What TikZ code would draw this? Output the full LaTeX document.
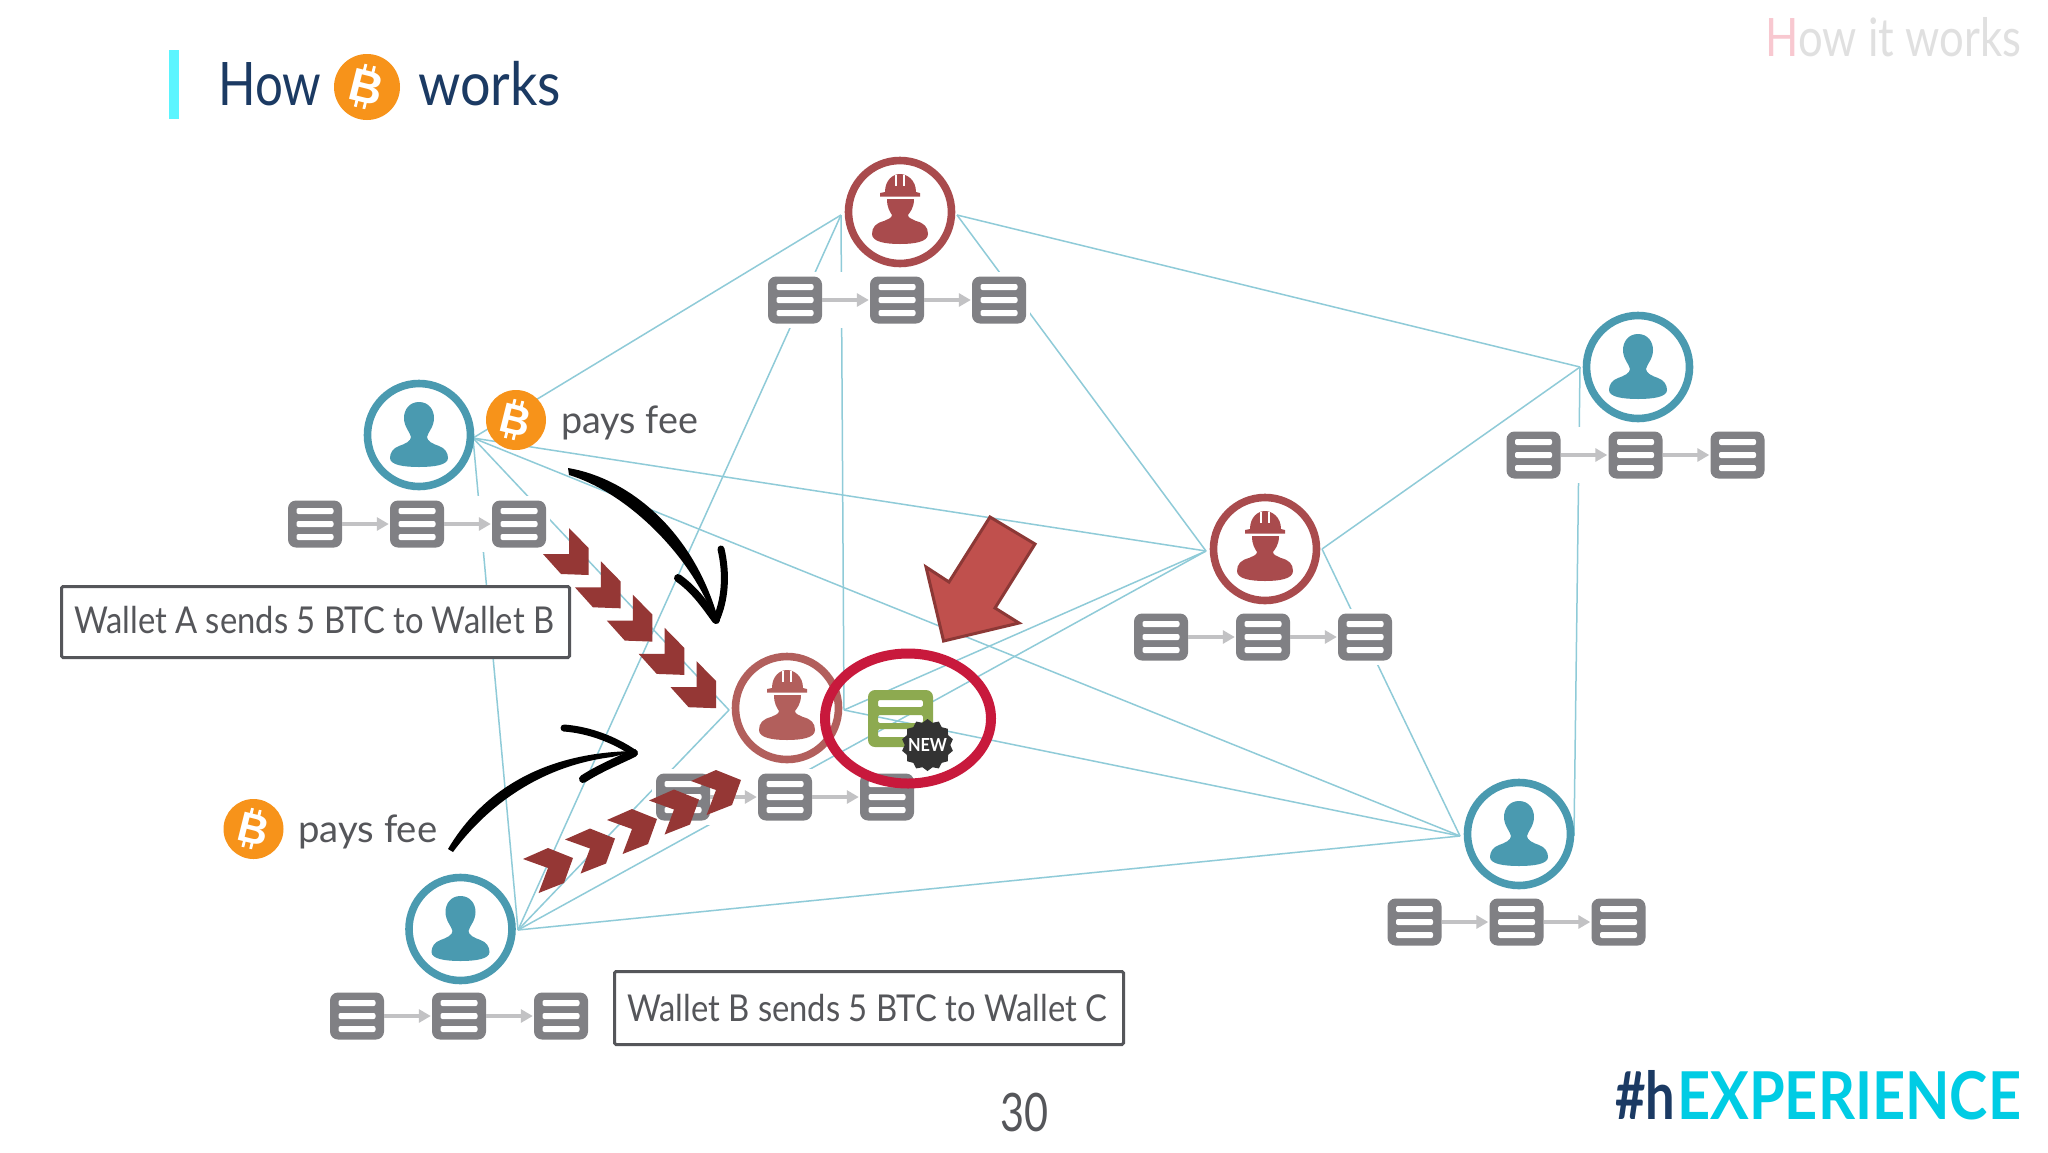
\documentclass[tikz,border=0pt]{standalone}
\usepackage{fontspec}
\usepackage{graphicx}
\usetikzlibrary{shapes.geometric,arrows.meta}
\setmainfont{Lato}
\newfontfamily\logofont{Lato}
\newfontfamily\coinfont{Liberation Sans}
\newcommand\wtext[2]{\resizebox{#1pt}{\height}{#2}}
\newcommand\fsz[1]{\fontsize{#1}{#1}\selectfont}
\definecolor{minerred}{HTML}{A94B4D}
\definecolor{minerfade}{HTML}{B25F5C}
\definecolor{userblue}{HTML}{4A9AB0}
\definecolor{linkblue}{HTML}{8FCBD8}
\definecolor{boxgrey}{HTML}{808084}
\definecolor{arrgrey}{HTML}{C2C2C4}
\definecolor{navy}{HTML}{1B3A63}
\definecolor{coinorange}{HTML}{F7931A}
\definecolor{chevred}{HTML}{953735}
\definecolor{txtgrey}{HTML}{55565A}
\tikzset{
  link/.style={draw=linkblue,line width=1.5pt},
  hub/.style={inner sep=0pt,minimum size=0pt,outer sep=0pt},
  ringnode/.style={circle,draw=#1,fill=white,line width=7.6pt,minimum size=103pt,inner sep=0pt},
  chainbox/.style={rectangle,fill=boxgrey,rounded corners=8pt,minimum width=54pt,minimum height=47pt,inner sep=0pt},
  chainarrow/.style={draw=arrgrey,line width=4pt,-{Triangle[length=12pt,width=13pt]},shorten >=1pt},
  chevron/.style={fill=chevred},
  labelbox/.style={rectangle,draw=txtgrey,fill=white,line width=3pt,rounded corners=1.5pt,inner sep=0pt,anchor=north west},
  slidetext/.style={anchor=base west,inner sep=0pt,text=#1},
  userpic/.pic={
    \fill[pic actions] (0,-33) .. controls (10,-33) and (15,-25) .. (15,-17)
      .. controls (15,-8) and (9,-3) .. (8,2) .. controls (8,6) and (14,9) .. (20,11)
      .. controls (26,13) and (29,18) .. (29,23) .. controls (29,30) and (15,32) .. (0,32)
      .. controls (-15,32) and (-29,30) .. (-29,23) .. controls (-29,18) and (-26,13) .. (-20,11)
      .. controls (-14,9) and (-8,6) .. (-8,2) .. controls (-9,-3) and (-15,-8) .. (-15,-17)
      .. controls (-15,-25) and (-10,-33) .. (0,-33) -- cycle;
  },
  minerpic/.pic={
    \fill[pic actions] (-15,-20) .. controls (-15,-32) and (-7,-38) .. (0,-38)
      .. controls (7,-38) and (16,-32) .. (16,-20) -- (20,-19) -- (20,-15.5) -- (-20,-15.5) -- (-20,-19) -- cycle;
    \draw[white,line width=1.2pt] (-4,-37) -- (-4,-26) (4,-37) -- (4,-26);
    \fill[pic actions] (-13,-13) -- (14,-13) .. controls (14,-4) and (10,0) .. (8,3)
      .. controls (8,6) and (12,7) .. (16,9) .. controls (24,11) and (28,15) .. (28,22)
      .. controls (28,30) and (14,32) .. (0,32) .. controls (-14,32) and (-28,30) .. (-28,22)
      .. controls (-28,15) and (-24,11) .. (-16,9) .. controls (-12,7) and (-8,6) .. (-8,3)
      .. controls (-10,0) and (-13,-4) .. (-13,-13) -- cycle;
  },
  chainpic/.pic={
    \fill[white] (-133,-28) rectangle (133,28);
    \node[chainbox] (-a) at (-102,0) {};
    \node[chainbox] (-b) at (0,0) {};
    \node[chainbox] (-c) at (102,0) {};
    \foreach \cx in {-102,0,102} \foreach \cy in {-13,0,13}
      \fill[white,rounded corners=2pt] (\cx-18.5,\cy-3) rectangle (\cx+18.5,\cy+3);
    \draw[chainarrow] (-a) -- (-b);
    \draw[chainarrow] (-b) -- (-c);
  },
  coinpic/.pic={
    \node[circle,fill=coinorange,minimum size=60pt,inner sep=0pt,transform shape] (-disc) at (0,0) {};
    \node[inner sep=0pt,text=white,rotate=-14,transform shape] (-b) at (0,0) {\coinfont\bfseries\fsz{42}B};
    \begin{scope}[rotate=-14]
      \draw[white,line width=2.8pt] (-6,-20) -- (-6,-13) (2,-20) -- (2,-13) (-6,13) -- (-6,20) (2,13) -- (2,20);
    \end{scope}
  }
}
\begin{document}
\begin{tikzpicture}[x=1pt,y=-1pt]
\useasboundingbox (0,0) rectangle (2048,1152);
\fill[white] (0,0) rectangle (2048,1152);

% connection hubs
\node[hub] (mTl) at (841,215) {};
\node[hub] (mTr) at (957,215) {};
\node[hub] (uAr) at (473,438) {};
\node[hub] (uBr) at (518,930) {};
\node[hub] (mCl) at (729,710) {};
\node[hub] (mCr) at (844,710) {};
\node[hub] (mRl) at (1206,551) {};
\node[hub] (mRr) at (1322,549) {};
\node[hub] (uTl) at (1580,367) {};
\node[hub] (uDl) at (1460,836) {};
\node[hub] (uDt) at (1574,836) {};

% links
\draw[link] (mTl) -- (uAr);
\draw[link] (mTl) -- (uBr);
\draw[link] (mTl) -- (mCr);
\draw[link] (mTr) -- (uTl);
\draw[link] (mTr) -- (mRl);
\draw[link] (uTl) -- (mRr);
\draw[link] (uTl) -- (uDt);
\draw[link] (uAr) -- (mRl);
\draw[link] (uAr) -- (uDl);
\draw[link] (uAr) -- (mCl);
\draw[link] (uAr) -- (uBr);
\draw[link] (uBr) -- (uDl);
\draw[link] (uBr) -- (mCl);
\draw[link] (uBr) -- (mRl);
\draw[link] (mCr) -- (mRl);
\draw[link] (mCr) -- (uDl);
\draw[link] (mRr) -- (uDl);

% chains
\pic (chT) at (897,300) {chainpic};
\pic (chA) at (417,524) {chainpic};
\pic (chB) at (459,1016) {chainpic};
\pic (chC) at (785,797) {chainpic};
\pic (chR) at (1263,637) {chainpic};
\pic (chU) at (1635.5,455) {chainpic};
\pic (chD) at (1516.5,922) {chainpic};

% rings and icons
\node[ringnode=minerred] (mT) at (900,212) {};
\pic[fill=minerred] (mTi) at (900,212) {minerpic};
\node[ringnode=minerred] (mR) at (1265,549) {};
\pic[fill=minerred] (mRi) at (1265,549) {minerpic};
\node[ringnode=minerfade] (mC) at (787,708) {};
\pic[fill=minerfade] (mCi) at (787,708) {minerpic};
\node[ringnode=userblue] (uA) at (419,435) {};
\pic[fill=userblue] (uAi) at (419,435) {userpic};
\node[ringnode=userblue] (uB) at (460.5,929) {};
\pic[fill=userblue] (uBi) at (460.5,929) {userpic};
\node[ringnode=userblue] (uT) at (1638,367) {};
\pic[fill=userblue] (uTi) at (1638,367) {userpic};
\node[ringnode=userblue] (uD) at (1519,834) {};
\pic[fill=userblue] (uDi) at (1519,834) {userpic};

% new block
\fill[fill={rgb,255:red,141;green,170;blue,80},even odd rule]
  [rounded corners=7pt] (868,690) rectangle (933,747)
  [rounded corners=2pt] (878,700) rectangle (923,707) (878,715) rectangle (923,723) (878,729) rectangle (923,737);
\node[star,star points=14,star point ratio=1.14,fill=black!80,minimum size=52pt,inner sep=0pt] (badge) at (927.5,745) {};
\node[inner sep=0pt,text=white] (badgetxt) at (927.5,745) {\logofont\bfseries\fsz{18}\wtext{39}{NEW}};

% text boxes
\node[labelbox,minimum width=508pt,minimum height=71pt] (boxA) at (60,585) {};
\node[slidetext=txtgrey] (wA) at (74,633) {\fsz{37}\wtext{480}{Wallet A sends 5 BTC to Wallet B}};
\node[labelbox,minimum width=509pt,minimum height=73pt] (boxB) at (613,970) {};
\node[slidetext=txtgrey] (wB) at (627,1021) {\fsz{37}\wtext{480}{Wallet B sends 5 BTC to Wallet C}};

% coins and fee labels
\pic[scale=1.1] (coinT) at (367,87) {coinpic};
\pic (coinA) at (516,420) {coinpic};
\pic (coinB) at (253.5,829) {coinpic};
\node[slidetext=txtgrey] (feeA) at (561,433) {\fsz{38}\wtext{137}{pays fee}};
\node[slidetext=txtgrey] (feeB) at (298,842) {\fsz{38}\wtext{139}{pays fee}};

% chevrons
\foreach \i in {0,...,4}
  \fill[chevron,shift={(31.9*\i,33.3*\i)}] (569,528) -- (588.6,548) -- (588.6,575) -- (561,574) -- (543,554) -- (569,554) -- cycle;
\foreach \i in {0,...,4}
  \fill[chevron,shift={(42*\i,-19.5*\i)}] (523,859) -- (548,848) -- (573,858) -- (564,883) -- (538.6,893) -- (548,868) -- cycle;

% big red arrow
\draw[fill={rgb,255:red,192;green,80;blue,77},draw={rgb,255:red,140;green,56;blue,54},line width=3pt,line join=miter]
  (990,517) -- (1035,544) -- (995,608) -- (1019,623) -- (943.6,641) -- (926,567) -- (949,582) -- cycle;

% red ring
\draw[draw={rgb,255:red,200;green,25;blue,60},line width=10pt] (908,718.5) ellipse [x radius=83pt,y radius=65pt];

% hand-drawn arrows
\fill[black] (568,468) .. controls (628,478) and (694,530) .. (719,622) -- (706,600)
  .. controls (681,548) and (625,492) .. (569,475) -- cycle;
\draw[black,line width=8pt,line cap=round] (678,578) .. controls (695,590) and (705,605) .. (716,620);
\draw[black,line width=7pt,line cap=round] (721,549) .. controls (727,575) and (725,600) .. (716,620);
\fill[black] (448,849) .. controls (475,803) and (530,752) .. (636,751) -- (612,757)
  .. controls (540,766) and (487,806) .. (453,852) -- cycle;
\draw[black,line width=7pt,line cap=round] (564,728) .. controls (590,730) and (615,740) .. (634,753);
\draw[black,line width=8pt,line cap=round] (583,779) .. controls (600,768) and (620,760) .. (634,753);

% title and corner texts
\fill[fill={rgb,255:red,91;green,245;blue,255}] (169,50) rectangle (179,119);
\node[slidetext=navy] (tHow) at (218,105) {\fsz{60}\wtext{103}{How}};
\node[slidetext=navy] (tWorks) at (418,105) {\fsz{60}\wtext{143}{works}};
\node[slidetext=black!12] (tCorner) at (1765,56) {\fsz{53}\wtext{256}{\textcolor[HTML]{F8C8D0}{H}ow it works}};
\node[slidetext=txtgrey] (tPage) at (1000,1131) {\fsz{53}\wtext{48}{30}};
\node[slidetext=navy] (tLogo) at (1615,1119) {\logofont\bfseries\fsz{66}\wtext{60}{\#h}\hspace{2pt}\textcolor[HTML]{00CCE4}{\wtext{344}{EXPERIENCE}}};
\end{tikzpicture}
\end{document}
